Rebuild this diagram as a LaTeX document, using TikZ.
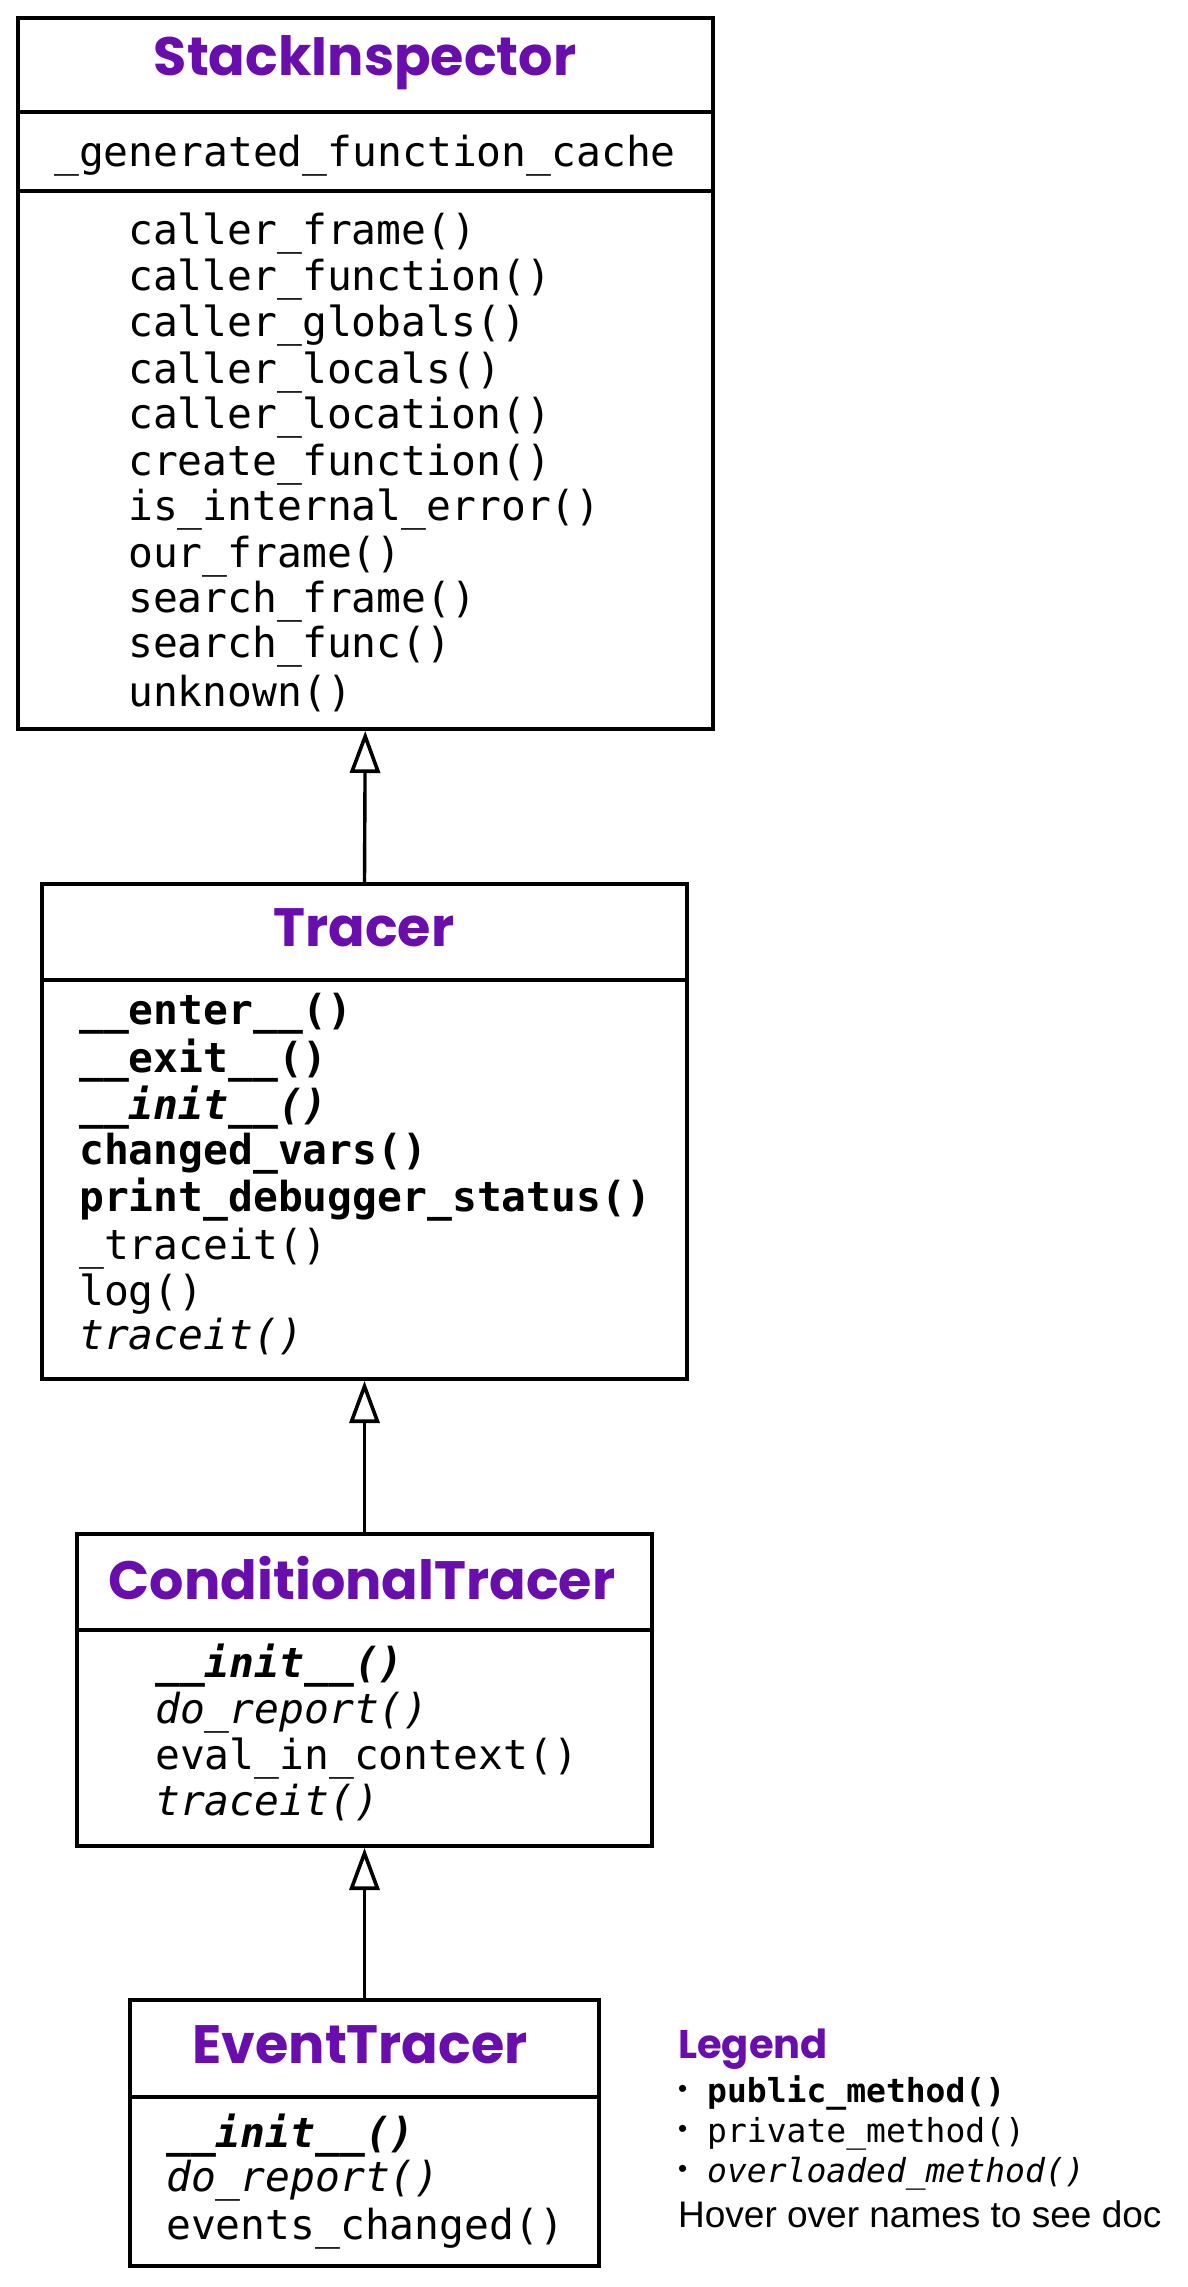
\documentclass[tikz,border=0pt]{standalone}
\usepackage{fontspec}
\setmainfont{Liberation Sans}
\setmonofont{DejaVu Sans Mono}
\newfontfamily\headfont{Poppins}
\usetikzlibrary{arrows.meta}
\definecolor{classpurple}{HTML}{6A0DAD}
\newcommand{\legbullet}{\makebox[29pt][l]{\raisebox{5pt}{\rmfamily\fontsize{26}{30}\selectfont•}}}

\begin{document}
\begin{tikzpicture}[x=1pt,y=-1pt,
  classbox/.style={draw=black, line width=4pt, fill=white, rectangle, inner sep=0pt},
  sep/.style={line width=4pt},
  classname/.style={font=\headfont\bfseries\fontsize{54}{58}\selectfont, text=classpurple, anchor=center, inner sep=0pt},
  member/.style={font=\ttfamily\fontsize{41.3}{46}\selectfont, anchor=west, inner sep=0pt},
  legmember/.style={font=\ttfamily\fontsize{33}{38}\selectfont, anchor=west, inner sep=0pt},
  inherit/.style={line width=3.4pt, -{Triangle[open, length=42pt, width=30pt, line width=3.6pt]}}
]
\useasboundingbox (0,0) rectangle (1187,2287);

% ---- StackInspector
\node[classbox, minimum width=695.5pt, minimum height=711.5pt] (stack) at (365.25,373.25) {};
\draw[sep] (17.5,112) -- (713,112);
\draw[sep] (17.5,191) -- (713,191);
\node[classname] (stackname) at (365,63) {StackInspector};
\node[member] (sa1) at (54,156) {\_generated\_function\_cache};
\node[member] (sm1) at (128,234) {caller\_frame()};
\node[member] (sm2) at (128,280) {caller\_function()};
\node[member] (sm3) at (128,326) {caller\_globals()};
\node[member] (sm4) at (128,373) {caller\_locals()};
\node[member] (sm5) at (128,418) {caller\_location()};
\node[member] (sm6) at (128,465) {create\_function()};
\node[member] (sm7) at (128,510) {is\_internal\_error()};
\node[member] (sm8) at (128,557) {our\_frame()};
\node[member] (sm9) at (128,602) {search\_frame()};
\node[member] (sm10) at (128,647) {search\_func()};
\node[member] (sm11) at (128,694) {unknown()};

% ---- Tracer
\node[classbox, minimum width=645pt, minimum height=495pt] (tracer) at (364.5,1131.5) {};
\draw[sep] (42,980) -- (687,980);
\node[classname] (tracername) at (364,928) {Tracer};
\node[member] (tm1) at (79,1014) {\bfseries \_\_enter\_\_()};
\node[member] (tm2) at (79,1061) {\bfseries \_\_exit\_\_()};
\node[member] (tm3) at (79,1108) {\bfseries\itshape \_\_init\_\_()};
\node[member] (tm4) at (79,1154) {\bfseries changed\_vars()};
\node[member] (tm5) at (79,1200) {\bfseries print\_debugger\_status()};
\node[member] (tm6) at (79,1249) {\_traceit()};
\node[member] (tm7) at (79,1294) {log()};
\node[member] (tm8) at (79,1337) {\itshape traceit()};

% ---- ConditionalTracer
\node[classbox, minimum width=575pt, minimum height=312pt] (cond) at (364.5,1690) {};
\draw[sep] (77,1630) -- (652,1630);
\node[classname] (condname) at (362,1578) {ConditionalTracer};
\node[member] (cm1) at (155,1666) {\bfseries\itshape \_\_init\_\_()};
\node[member] (cm2) at (155,1713) {\itshape do\_report()};
\node[member] (cm3) at (155,1759) {eval\_in\_context()};
\node[member] (cm4) at (155,1803) {\itshape traceit()};

% ---- EventTracer
\node[classbox, minimum width=469pt, minimum height=266pt] (event) at (364.5,2133) {};
\draw[sep] (130,2097) -- (599,2097);
\node[classname] (eventname) at (360,2045) {EventTracer};
\node[member] (em1) at (166,2136) {\bfseries\itshape \_\_init\_\_()};
\node[member] (em2) at (166,2181) {\itshape do\_report()};
\node[member] (em3) at (166,2229) {events\_changed()};

% ---- inheritance arrows
\draw[inherit] (tracer.north) -- (stack.south);
\draw[inherit] (cond.north) -- (tracer.south);
\draw[inherit] (event.north) -- (cond.south);

% ---- legend
\node[anchor=west, inner sep=0pt, text=classpurple, font=\headfont\bfseries\fontsize{40}{44}\selectfont] (legtitle) at (678,2049) {Legend};
\node[legmember] (leg1) at (678,2093) {\legbullet\bfseries public\_method()};
\node[legmember] (leg2) at (678,2134) {\legbullet private\_method()};
\node[legmember] (leg3) at (678,2174) {\legbullet\itshape overloaded\_method()};
\node[anchor=west, inner sep=0pt, font=\rmfamily\fontsize{37}{42}\selectfont] (leghover) at (678,2214) {Hover over names to see doc};
\end{tikzpicture}
\end{document}
